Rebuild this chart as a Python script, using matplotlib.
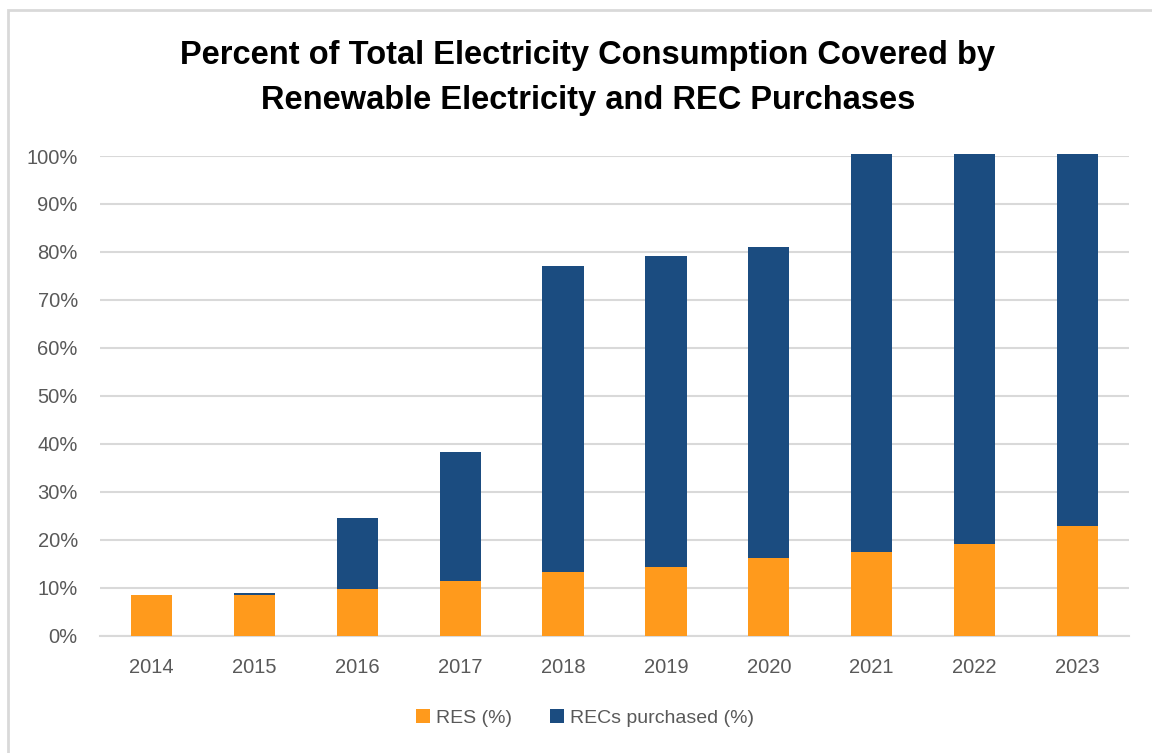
import matplotlib
matplotlib.use("Agg")
import matplotlib.pyplot as plt
import matplotlib.patches as mpatches
import numpy as np

years = ["2014", "2015", "2016", "2017", "2018", "2019", "2020", "2021", "2022", "2023"]
res_pct = [8.5, 8.5, 9.7, 11.5, 13.2, 14.4, 16.1, 17.4, 19.1, 22.9]
recs_pct = [0.0, 0.4, 14.8, 26.7, 63.8, 64.7, 65.0, 83.1, 81.4, 77.6]

ORANGE = "#FF9A1C"
BLUE = "#1B4C80"
GREY_TXT = "#595959"
GRID = "#D9D9D9"

fig = plt.figure(figsize=(11.52, 7.53), dpi=100)
ax = fig.add_axes([100 / 1152, 1 - 635.7 / 753, 1029 / 1152, (635.7 - 156) / 753])

# outer chart-area border (only left and top visible in the reference)
fig.patches.append(mpatches.Rectangle((8 / 1152, -0.05), 1.2, (753 - 10) / 753 + 0.05,
                                      transform=fig.transFigure, fill=False,
                                      edgecolor=GRID, linewidth=2))

x = np.arange(len(years))
res = np.array(res_pct) / 100
recs = np.array(recs_pct) / 100
ax.bar(x, res, width=0.4, color=ORANGE, label="RES (%)", zorder=3, clip_on=False)
ax.bar(x, recs, width=0.4, bottom=res, color=BLUE, label="RECs purchased (%)",
       zorder=3, clip_on=False)

ax.set_xlim(-0.5, len(years) - 0.5)
ax.set_ylim(0, 1.0)
ax.set_yticks(np.arange(0, 1.01, 0.1))
ax.yaxis.set_major_formatter(plt.FuncFormatter(lambda y, _: f"{y:.0%}"))
ax.set_xticks(x)
ax.set_xticklabels(years)
ax.tick_params(axis="both", length=0, labelsize=14.5, labelcolor=GREY_TXT,
               labelfontfamily="Liberation Sans")
ax.tick_params(axis="y", pad=16)
ax.tick_params(axis="x", pad=16)
ax.grid(axis="y", color=GRID, linewidth=1.5, zorder=0)
for s in ["top", "right", "left"]:
    ax.spines[s].set_visible(False)
ax.spines["bottom"].set_color(GRID)
ax.spines["bottom"].set_linewidth(1.5)

fig.text(588 / 1152, 1 - 78 / 753,
         "Percent of Total Electricity Consumption Covered by\nRenewable Electricity and REC Purchases",
         ha="center", va="center", fontsize=23.5, fontweight="bold",
         family=["Liberation Sans", "DejaVu Sans"], linespacing=1.55)

leg = fig.legend(loc="center", bbox_to_anchor=(585 / 1152, 1 - 718 / 753), ncol=2,
                 frameon=False, handlelength=0.7, handleheight=0.7,
                 handletextpad=0.3, columnspacing=2.0,
                 prop={"family": "Liberation Sans", "size": 14})
for t in leg.get_texts():
    t.set_color(GREY_TXT)

fig.savefig("out.png", dpi=100)
